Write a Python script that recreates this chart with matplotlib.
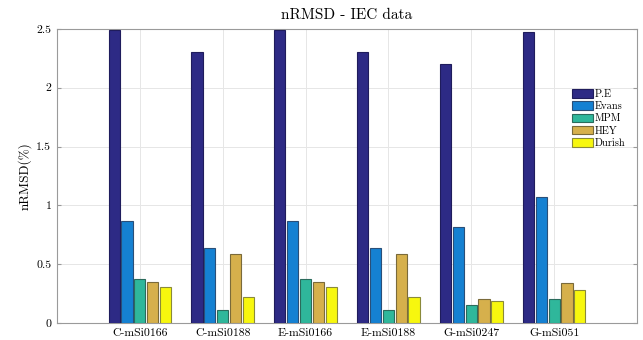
import numpy as np
import matplotlib.pyplot as plt

plt.rcParams["font.family"] = ["cmr10", "DejaVu Serif"]
plt.rcParams["axes.formatter.use_mathtext"] = True

modules = ["C-mSi0166", "C-mSi0188", "E-mSi0166", "E-mSi0188", "G-mSi0247", "G-mSi051"]
methods = ["P.E", "Evans", "MPM", "HEY", "Durish"]
pe = [2.49, 2.30, 2.49, 2.30, 2.20, 2.47]
evans = [0.87, 0.64, 0.87, 0.64, 0.82, 1.07]
mpm = [0.37, 0.11, 0.37, 0.11, 0.15, 0.20]
hey = [0.35, 0.59, 0.35, 0.59, 0.20, 0.34]
durish = [0.31, 0.22, 0.31, 0.22, 0.19, 0.28]

colors = ["#2d2a85", "#1581d2", "#2fb79b", "#d6b04c", "#f7f70e"]
edges = ["#1f1c5c", "#2a4f78", "#2b6b5c", "#7a6a3a", "#8a8a3a"]

fig = plt.figure(figsize=(6.43, 3.4), dpi=100)
ax = fig.add_axes([0.0886, 0.05, 0.902, 0.865])

x = np.arange(1, len(modules) + 1)
step = 0.155
width = 0.135
for i, (vals, name) in enumerate(zip([pe, evans, mpm, hey, durish], methods)):
    ax.bar(x + (i - 2) * step, vals, width, color=colors[i], edgecolor=edges[i],
           linewidth=0.8, label=name, zorder=3)

ax.set_xlim(0, 7)
ax.set_ylim(0, 2.5)
ax.set_xticks(x)
ax.set_xticklabels(modules, fontsize=8.5)
ax.set_yticks([0, 0.5, 1, 1.5, 2, 2.5])
ax.set_yticklabels(["0", "0.5", "1", "1.5", "2", "2.5"], fontsize=8.5)
ax.tick_params(direction="in", length=3, color="#999999", top=False, right=True, pad=4)
ax.set_ylabel("nRMSD(%)", fontsize=9.5, labelpad=3)
ax.set_title("nRMSD - IEC data", fontsize=11, pad=7)
ax.grid(color="#e6e6e6", linewidth=0.7, zorder=0)
for s in ax.spines.values():
    s.set_color("#9a9a9a")
    s.set_linewidth(0.8)

leg = ax.legend(loc="upper left", bbox_to_anchor=(0.875, 0.82), fontsize=7.5,
                frameon=False, handlelength=2.0, handleheight=0.9,
                handletextpad=0.2, labelspacing=0.22, borderpad=0.2)

fig.savefig("out.png", dpi=100)
